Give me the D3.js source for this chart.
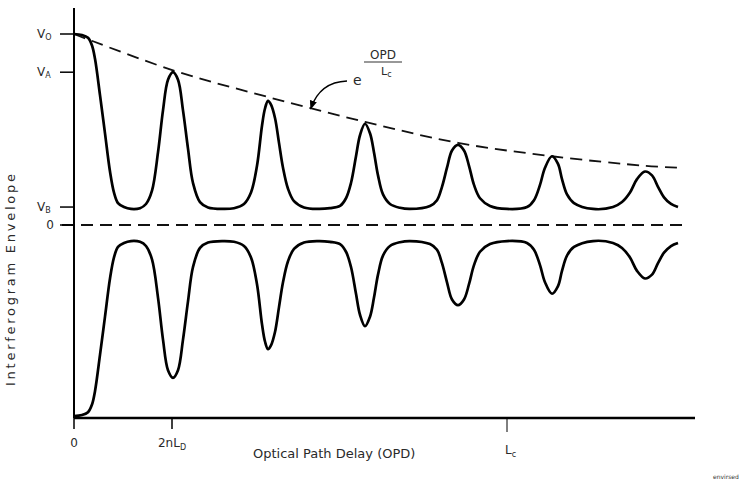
<!DOCTYPE html>
<html lang="en">
<head>
    <meta charset="UTF-8">
    <title>Interferogram Envelope</title>
    <script src="https://d3js.org/d3.v7.min.js"></script>
    <style>
        body{
            margin:0;
            background:#fff;
        }
        svg{
            display:block;
            font-family:'DejaVu Sans',sans-serif;
        }
        .lbl{
            fill:#2a2a2a;
        }
    </style>
</head>
<body>
    <svg id="chart" width="754" height="482"></svg>
    <script>
        // OPD (arbitrary units) and envelope value (V0 = 1)
        const sigOpd = [0,8,14,18,21,26,31,36,40,44,50,57,
            66,72,78,84,89,94,99,104,109,114,119,126,134,149,
            160,170,177,183,188,191,194,197,201,205,209,214,220,230,244,
            256,266,272,277,282,286,291,296,300,304,309,316,326,336,
            356,363,368,373,378,384,390,395,400,406,416,433,
            453,460,466,471,478,484,488,493,500,519,
            539,548,556,563,571,578,584,590,597,604];
        const sigVal = [1.0,0.995,0.98,0.94,0.87,0.68,0.48,0.28,0.17,0.115,0.094,0.084,
            0.088,0.11,0.18,0.38,0.6,0.76,0.8,0.76,0.6,0.4,0.22,0.12,0.092,0.084,
            0.088,0.11,0.17,0.31,0.52,0.61,0.65,0.63,0.56,0.43,0.3,0.19,0.125,0.092,0.084,
            0.088,0.1,0.14,0.22,0.36,0.47,0.53,0.48,0.38,0.26,0.16,0.11,0.09,0.084,
            0.1,0.13,0.2,0.3,0.39,0.42,0.39,0.31,0.21,0.14,0.1,0.084,
            0.094,0.13,0.21,0.3,0.36,0.32,0.24,0.16,0.115,0.084,
            0.094,0.12,0.17,0.24,0.28,0.26,0.2,0.145,0.11,0.094];

        const envOpd = [0,99,194,291,384,478,571,606];
        const envVal = [1.0,0.81,0.67,0.54,0.43,0.36,0.31,0.30];

        const levelNames = [['V','O'],['V','A'],['V','B'],['0','']];
        const levelVals = [1.0,0.8,0.094,0];

        const xTickNames = [['0',''],['2nL','D'],['L','c']];
        const xTickVals = [0,98,433];

        const svg = d3.select('#chart');
        const x = d3.scaleLinear().domain([0,621]).range([74,695]);
        const y = d3.scaleLinear().domain([-1,1]).range([416,34]);

        const line = d3.line()
            .x(d=>x(d[0]))
            .y(d=>y(d[1]))
            .curve(d3.curveCatmullRom.alpha(0.5));

        const upper = sigOpd.map((o,i)=>[o,sigVal[i]]);
        const lower = sigOpd.map((o,i)=>[o,-sigVal[i]]);
        const env = envOpd.map((o,i)=>[o,envVal[i]]);

        // zero line
        svg.append('line')
            .attr('x1',x(0)-12).attr('x2',x(613))
            .attr('y1',y(0)).attr('y2',y(0))
            .attr('stroke','#111').attr('stroke-width',2)
            .attr('stroke-dasharray','12,7');

        // envelope e^(-OPD/Lc)
        svg.append('path')
            .attr('d',line(env))
            .attr('fill','none')
            .attr('stroke','#111')
            .attr('stroke-width',1.8)
            .attr('stroke-dasharray','12,7');

        // signal curves
        [upper,lower].forEach(data=>{
            svg.append('path')
                .attr('d',line(data))
                .attr('fill','none')
                .attr('stroke','#000')
                .attr('stroke-width',2.7)
                .attr('stroke-linejoin','round');
        });

        // axes
        svg.append('line')
            .attr('x1',x(0)).attr('x2',x(0))
            .attr('y1',8).attr('y2',y(-1)+2)
            .attr('stroke','#000').attr('stroke-width',2);
        svg.append('line')
            .attr('x1',x(0)).attr('x2',x(621))
            .attr('y1',y(-1)+2).attr('y2',y(-1)+2)
            .attr('stroke','#000').attr('stroke-width',2.4);

        // left level ticks + labels
        levelVals.forEach((v,i)=>{
            svg.append('line')
                .attr('x1',x(0)-14).attr('x2',x(0))
                .attr('y1',y(v)).attr('y2',y(v))
                .attr('stroke','#000').attr('stroke-width',1.5);
            const t = svg.append('text')
                .attr('class','lbl')
                .attr('x',i==3?54:37)
                .attr('y',y(v)+4)
                .attr('font-size','12px')
                .attr('text-anchor',i==3?'end':'start');
            t.append('tspan').text(levelNames[i][0]);
            if(levelNames[i][1]){
                t.append('tspan')
                    .attr('font-size','8px')
                    .attr('dy',2)
                    .text(levelNames[i][1]);
            }
        });

        // x ticks + labels
        xTickVals.forEach((v,i)=>{
            svg.append('line')
                .attr('x1',x(v)).attr('x2',x(v))
                .attr('y1',y(-1)+2).attr('y2',y(-1)+(i==2?16:13))
                .attr('stroke','#000').attr('stroke-width',i==2?1:1.5);
            const t = svg.append('text')
                .attr('class','lbl')
                .attr('x',x(v)+(i==2?-2:0))
                .attr('y',i==2?454:447)
                .attr('font-size','12px')
                .attr('text-anchor',i==2?'start':'middle');
            t.append('tspan').text(xTickNames[i][0]);
            if(xTickNames[i][1]){
                t.append('tspan')
                    .attr('font-size','8px')
                    .attr('dy',3)
                    .text(xTickNames[i][1]);
            }
        });

        svg.append('text')
            .attr('class','lbl')
            .attr('x',253).attr('y',458)
            .attr('font-size','13px')
            .text('Optical Path Delay (OPD)');

        svg.append('text')
            .attr('class','lbl')
            .attr('transform','translate(15,280) rotate(-90)')
            .attr('text-anchor','middle')
            .attr('font-size','13px')
            .attr('textLength',212)
            .text('Interferogram Envelope');

        // exponent label e^(-OPD/Lc)
        svg.append('text')
            .attr('class','lbl')
            .attr('x',353).attr('y',85)
            .attr('font-size','14px')
            .text('e');
        svg.append('text')
            .attr('class','lbl')
            .attr('x',370).attr('y',59)
            .attr('font-size','12px')
            .text('OPD');
        svg.append('line')
            .attr('x1',364).attr('x2',402)
            .attr('y1',62).attr('y2',62)
            .attr('stroke','#333').attr('stroke-width',1.2);
        const lc = svg.append('text')
            .attr('class','lbl')
            .attr('x',381).attr('y',75)
            .attr('font-size','11px');
        lc.append('tspan').text('L');
        lc.append('tspan').attr('font-size','8px').attr('dy',2).text('c');

        // arrow
        svg.append('defs').append('marker')
            .attr('id','head')
            .attr('viewBox','0 0 10 10')
            .attr('refX',8).attr('refY',5)
            .attr('markerWidth',7).attr('markerHeight',7)
            .attr('orient','auto')
            .append('path')
            .attr('d','M0,1 L10,5 L0,9 Z')
            .attr('fill','#000');
        svg.append('path')
            .attr('d','M347,81 Q320,82 311,108')
            .attr('fill','none')
            .attr('stroke','#000')
            .attr('stroke-width',1.3)
            .attr('marker-end','url(#head)');

        svg.append('text')
            .attr('x',713).attr('y',479)
            .attr('font-size','6px')
            .attr('fill','#333')
            .text('envirsed');
    </script>
</body>
</html>
